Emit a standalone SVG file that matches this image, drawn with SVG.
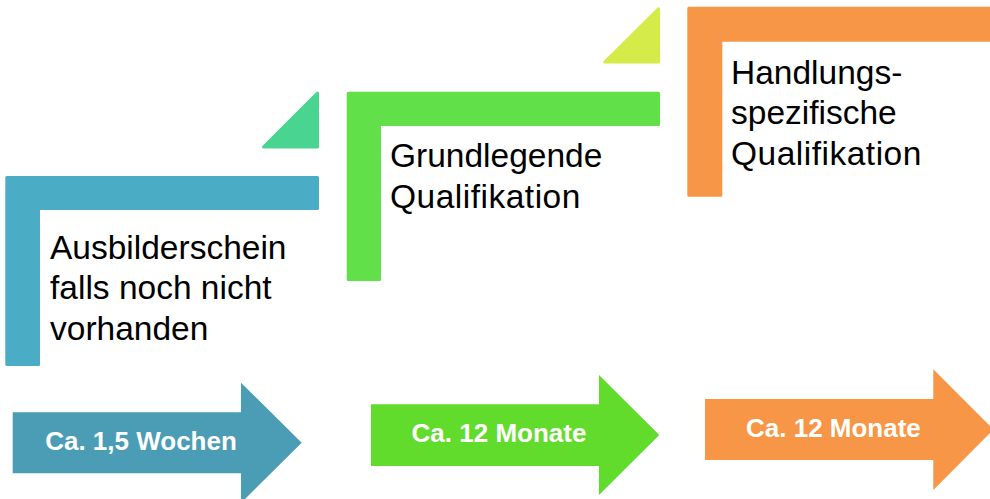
<svg xmlns="http://www.w3.org/2000/svg" width="990" height="499" viewBox="0 0 990 499">
<style>
.lbl{font-family:"Liberation Sans",Arial,sans-serif;font-size:33.5px;fill:#000}
.alb{font-family:"Liberation Sans",Arial,sans-serif;font-size:26px;font-weight:bold;fill:#fff;text-anchor:middle}
.r{stroke-width:3;stroke-linejoin:round}
</style>
<rect width="990" height="499" fill="#fff"/>
<g id="step1">
<path class="r" d="M6.8,177.5 H317.5 V208.5 H38.5 V364.5 H6.8 Z" fill="#4BACC6" stroke="#4BACC6"/>
<path class="r" d="M263.5,147 L317.5,93 V147 Z" fill="#4AD492" stroke="#4AD492"/>
<text class="lbl"><tspan x="50" y="258.5">Ausbilderschein</tspan><tspan x="50" y="299">falls noch nicht</tspan><tspan x="50" y="339.5">vorhanden</tspan></text>
</g>
<g id="step2">
<path class="r" d="M348.2,93.2 H658.5 V124.5 H379.5 V279.5 H348.2 Z" fill="#62E04A" stroke="#62E04A"/>
<path class="r" d="M604.8,62 L658.5,8.8 V62 Z" fill="#D4EB4A" stroke="#D4EB4A"/>
<text class="lbl"><tspan x="390" y="167">Grundlegende</tspan><tspan x="390" y="207.5" letter-spacing="0.5">Qualifikation</tspan></text>
</g>
<g id="step3">
<path class="r" d="M688.8,8.2 H1000 V40.2 H720.8 V195.2 H688.8 Z" fill="#F79646" stroke="#F79646"/>
<text class="lbl"><tspan x="731" y="83.5">Handlungs-</tspan><tspan x="731" y="124">spezifische</tspan><tspan x="731" y="165" letter-spacing="0.5">Qualifikation</tspan></text>
</g>
<g id="connectors">
<g id="arrow1">
<path d="M12.7,412.3 H241 V382.7 L301.7,442.7 L241,503 V473.3 H12.7 Z" fill="#4A9DB5"/>
<text class="alb" x="141" y="450">Ca. 1,5 Wochen</text>
</g>
<g id="arrow2">
<path d="M371,404.3 H599 V375 L659.3,435 L599,495 V466 H371 Z" fill="#62DC2C"/>
<text class="alb" x="499" y="441.7">Ca. 12 Monate</text>
</g>
<g id="arrow3">
<path d="M705,399 H933.3 V369.3 L993.5,429.6 L933.3,490 V460 H705 Z" fill="#F79646"/>
<text class="alb" x="833.4" y="436.8">Ca. 12 Monate</text>
</g>
</g>
</svg>
